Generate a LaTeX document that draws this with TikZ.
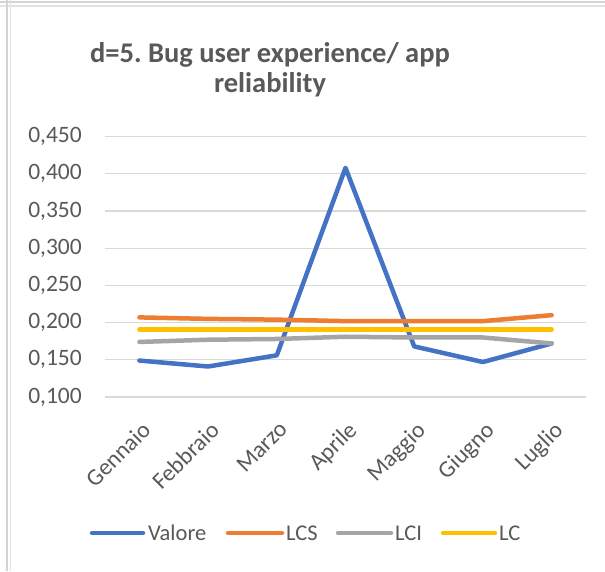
\documentclass[tikz,border=0pt]{standalone}
\usepackage{fontspec}
\setmainfont{Carlito}
\frenchspacing
\definecolor{txtgray}{HTML}{595959}
\definecolor{gridgray}{HTML}{D9D9D9}
\definecolor{cellline}{HTML}{D4D4D4}
\definecolor{cellline2}{HTML}{E2E2E2}
\definecolor{serA}{HTML}{4472C4}
\definecolor{serB}{HTML}{ED7D31}
\definecolor{serC}{HTML}{A5A5A5}
\definecolor{serD}{HTML}{FFC000}
\tikzset{
  gridline/.style={draw=gridgray, line width=1.3pt},
  series/.style={line width=4.5pt, line cap=round, line join=round},
  ticklabel/.style={text=txtgray, font=\fontsize{23.5}{28}\selectfont, inner sep=0pt},
  catlabel/.style={ticklabel, rotate=45, anchor=north east},
  legtext/.style={text=txtgray, font=\fontsize{22.5}{27}\selectfont, inner sep=0pt, anchor=west},
  titletext/.style={text=txtgray, font=\bfseries\fontsize{28.5}{34}\selectfont, inner sep=0pt, anchor=base},
}
\begin{document}
\begin{tikzpicture}[x=1pt,y=-1pt]
\useasboundingbox (0,0) rectangle (605,571);
\fill[white] (0,0) rectangle (605,571);

% spreadsheet cell borders around the chart
\draw[cellline, line width=1.6pt] (0,2) -- (605,2);
\draw[cellline2, line width=1.6pt] (0,6) -- (605,6);
\draw[cellline, line width=1.6pt] (7,0) -- (7,571);
\draw[cellline2, line width=1.6pt] (10.5,0) -- (10.5,571);

% title
\node[titletext] (title1) at (270,62) {d=5. Bug user experience/ app};
\node[titletext] (title2) at (270,92) {reliability};

% value axis: one unit = 744pt, 0.100 sits at pixel row 397
\begin{scope}[y=744pt, yshift=-471.4pt]
  \foreach \v/\lab in {0.10/{0,100},0.15/{0,150},0.20/{0,200},0.25/{0,250},0.30/{0,300},0.35/{0,350},0.40/{0,400},0.45/{0,450}} {
    \draw[gridline] (105,\v) -- (586,\v);
    \node[ticklabel, anchor=east] (ylab\v) at (82,\v) {\lab};
  }

  % data points
  \foreach \name/\vals in {va/{0.149,0.141,0.156,0.408,0.168,0.147,0.172},
                           lcs/{0.207,0.205,0.204,0.202,0.202,0.202,0.210},
                           lci/{0.174,0.177,0.178,0.181,0.180,0.180,0.172},
                           lc/{0.191,0.191,0.191,0.191,0.191,0.191,0.191}} {
    \foreach \val [count=\k from 0] in \vals {
      \coordinate (\name\k) at ({139.4+68.7*\k},\val);
    }
  }
\end{scope}

% series, first drawn first
\draw[series, serA] (va0) -- (va1) -- (va2) -- (va3) -- (va4) -- (va5) -- (va6);
\draw[series, serB] (lcs0) -- (lcs1) -- (lcs2) -- (lcs3) -- (lcs4) -- (lcs5) -- (lcs6);
\draw[series, serC] (lci0) -- (lci1) -- (lci2) -- (lci3) -- (lci4) -- (lci5) -- (lci6);
\draw[series, serD] (lc0) -- (lc1) -- (lc2) -- (lc3) -- (lc4) -- (lc5) -- (lc6);

% category labels
\foreach \m [count=\k from 0] in {Gennaio,Febbraio,Marzo,Aprile,Maggio,Giugno,Luglio} {
  \node[catlabel] (cat\k) at ({140.4+68.7*\k},420) {\m};
}

% legend
\coordinate (lgA1) at (92,533);  \coordinate (lgA2) at (143,533);
\coordinate (lgB1) at (228,533); \coordinate (lgB2) at (282,533);
\coordinate (lgC1) at (338,533); \coordinate (lgC2) at (391,533);
\coordinate (lgD1) at (443,533); \coordinate (lgD2) at (495,533);
\draw[series, serA] (lgA1) -- (lgA2);
\draw[series, serB] (lgB1) -- (lgB2);
\draw[series, serC] (lgC1) -- (lgC2);
\draw[series, serD] (lgD1) -- (lgD2);
\node[legtext] (legA) at (148,533) {Valore};
\node[legtext] (legB) at (286,533) {LCS};
\node[legtext] (legC) at (395,533) {LCI};
\node[legtext] (legD) at (499,533) {LC};
\end{tikzpicture}
\end{document}
